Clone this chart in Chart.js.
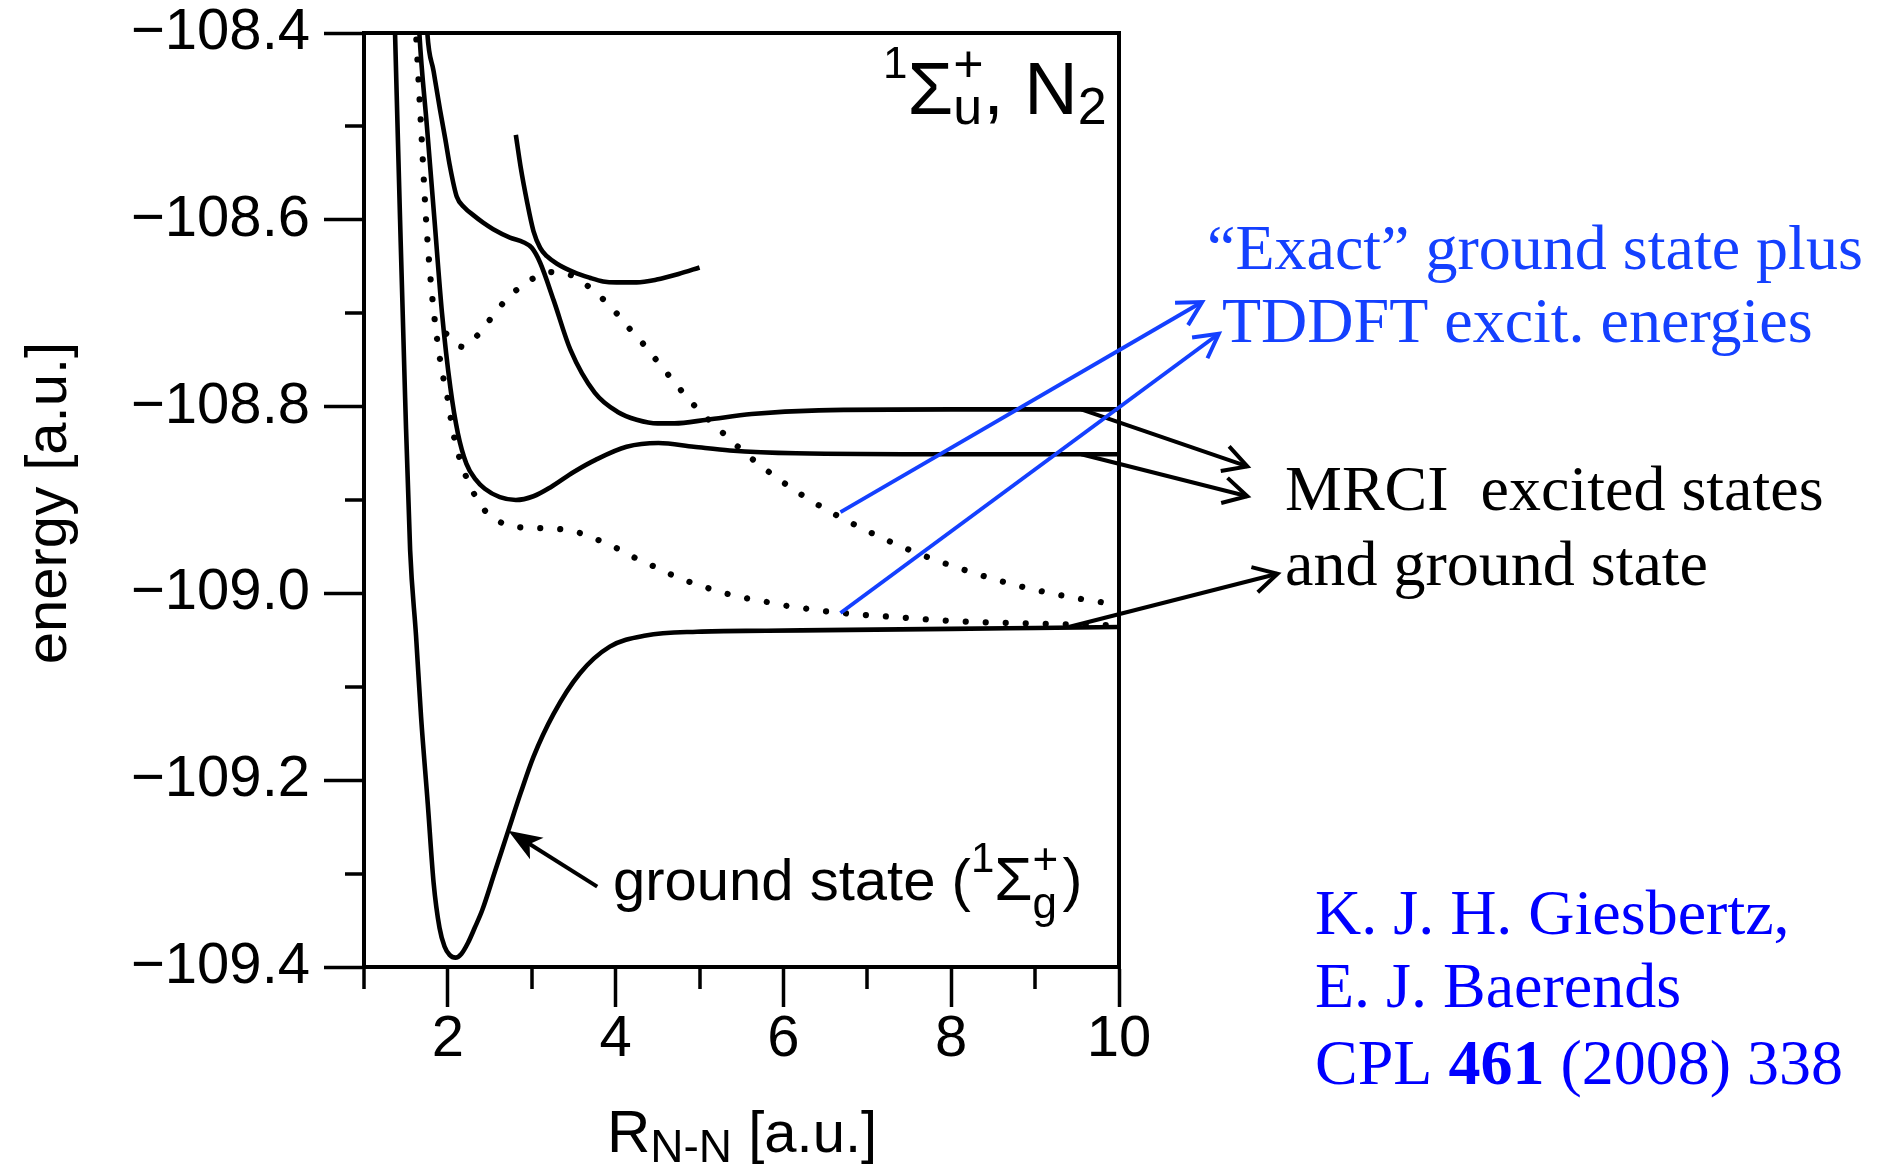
<!DOCTYPE html>
<html>
<head>
<meta charset="utf-8">
<title>N2 potential energy curves</title>
<script src="https://cdn.jsdelivr.net/npm/chart.js@4.4.1/dist/chart.umd.min.js"></script>
<style>
  html, body { margin: 0; padding: 0; background: #fff; }
  canvas { display: block; }
</style>
</head>
<body>
<canvas id="pes" width="1883" height="1164"></canvas>
<script>
// R(N-N) in a.u. and energies in a.u.

// MRCI ground state
var groundR = [1.31, 1.37, 1.43, 1.49, 1.55, 1.62, 1.68, 1.76, 1.83, 1.90, 1.96, 2.02, 2.09, 2.16, 2.24, 2.32, 2.41, 2.56, 2.72, 2.87, 3.02, 3.26, 3.57, 3.93, 4.36, 4.97, 5.80, 6.79, 8.00, 9.00, 10.0];
var groundE = [-108.20, -108.40, -108.60, -108.79, -108.954, -109.045, -109.132, -109.225, -109.310, -109.358, -109.378, -109.387, -109.390, -109.386, -109.374, -109.358, -109.339, -109.298, -109.254, -109.213, -109.175, -109.129, -109.086, -109.057, -109.045, -109.041, -109.040, -109.039, -109.038, -109.037, -109.036];

// MRCI excited states
var mrci1R = [1.61, 1.66, 1.75, 1.84, 1.93, 2.03, 2.12, 2.22, 2.33, 2.44, 2.62, 2.81, 3.02, 3.23, 3.50, 3.76, 4.13, 4.51, 4.93, 5.36, 6.15, 8.00, 10.0];
var mrci1E = [-108.30, -108.40, -108.50, -108.60, -108.70, -108.78, -108.829, -108.861, -108.878, -108.888, -108.897, -108.900, -108.896, -108.886, -108.870, -108.857, -108.843, -108.839, -108.843, -108.847, -108.850, -108.851, -108.851];

var mrci2R = [1.72, 1.755, 1.83, 1.906, 1.97, 2.025, 2.105, 2.20, 2.303, 2.42, 2.54, 2.74, 2.90, 3.00, 3.10, 3.26, 3.46, 3.75, 4.03, 4.25, 4.50, 4.70, 5.09, 5.62, 6.42, 8.00, 10.0];
var mrci2E = [-108.33, -108.40, -108.441, -108.482, -108.514, -108.543, -108.575, -108.587, -108.595, -108.603, -108.610, -108.619, -108.624, -108.630, -108.646, -108.686, -108.739, -108.785, -108.806, -108.814, -108.818, -108.818, -108.814, -108.808, -108.804, -108.803, -108.803];

var mrci3R = [2.81, 2.87, 2.94, 3.02, 3.10, 3.18, 3.30, 3.50, 3.69, 3.85, 4.01, 4.25, 4.49, 4.75, 5.00];
var mrci3E = [-108.509, -108.545, -108.579, -108.612, -108.630, -108.639, -108.647, -108.656, -108.662, -108.666, -108.667, -108.667, -108.664, -108.658, -108.651];

// exact ground state + TDDFT excitation energies
var tddft1R = [1.98, 2.08, 2.17, 2.35, 2.50, 2.65, 2.82, 3.01, 3.23, 3.46, 3.67, 3.85, 4.02, 4.17, 4.33, 4.60, 4.94, 5.30, 5.64, 6.21, 6.84, 7.49, 8.16, 8.85, 9.55, 10.0];
var tddft1E = [-108.722, -108.731, -108.736, -108.724, -108.707, -108.690, -108.675, -108.663, -108.656, -108.659, -108.671, -108.685, -108.701, -108.717, -108.733, -108.763, -108.799, -108.830, -108.857, -108.894, -108.926, -108.953, -108.975, -108.993, -109.006, -109.012];

var tddft2R = [1.56, 1.62, 1.68, 1.74, 1.80, 1.87, 1.93, 1.99, 2.07, 2.20, 2.43, 2.61, 2.84, 3.08, 3.32, 3.56, 3.77, 4.00, 4.21, 4.43, 4.64, 4.86, 5.09, 5.31, 5.55, 5.79, 6.02, 6.25, 6.49, 6.96, 7.44, 7.91, 8.39, 8.86, 9.33, 9.86, 10.0];
var tddft2E = [-108.30, -108.40, -108.50, -108.60, -108.67, -108.727, -108.762, -108.788, -108.831, -108.871, -108.910, -108.923, -108.929, -108.930, -108.931, -108.935, -108.942, -108.951, -108.961, -108.970, -108.979, -108.987, -108.994, -109.000, -109.005, -109.009, -109.013, -109.016, -109.019, -109.023, -109.026, -109.029, -109.031, -109.032, -109.033, -109.034, -109.034];

// axis ticks
var xMajor = [2, 4, 6, 8, 10];
var xMinor = [1, 3, 5, 7, 9];
var yMajor = [-109.4, -109.2, -109.0, -108.8, -108.6, -108.4];
var yMinor = [-109.3, -109.1, -108.9, -108.7, -108.5];

// arrows [fromR, fromE, toR, toE]
var groundArrow = [3.78, -109.314, 2.72, -109.254];
var mrciArrows = [[9.55, -108.803, 11.53, -108.864], [9.55, -108.851, 11.53, -108.896], [9.40, -109.036, 11.89, -108.979]];
var tddftArrows = [[6.68, -108.913, 10.99, -108.688], [6.68, -109.021, 11.19, -108.722]];

var sans = '"Liberation Sans", Arial, Helvetica, sans-serif';
var serif = '"Liberation Serif", "Times New Roman", serif';
var blue = '#1440ff';
var citeBlue = '#0000ff';

function pts(xs, ys) {
  var out = [];
  for (var i = 0; i < xs.length; i++) out.push({ x: xs[i], y: ys[i] });
  return out;
}
function solid(xs, ys) {
  return {
    data: pts(xs, ys), showLine: true, fill: false,
    borderColor: '#000', borderWidth: 4.6, pointRadius: 0,
    cubicInterpolationMode: 'monotone'
  };
}
function dotted(xs, ys) {
  var d = solid(xs, ys);
  d.borderWidth = 6.2;
  d.borderDash = [0.01, 20];
  d.borderCapStyle = 'round';
  return d;
}

// write runs of text one after another; each run: [text, font, dy, advance?]
function runs(ctx, x, y, parts) {
  for (var i = 0; i < parts.length; i++) {
    var p = parts[i];
    ctx.font = p[1];
    ctx.fillText(p[0], x, y + (p[2] || 0));
    if (p[3] !== false) x += ctx.measureText(p[0]).width;
  }
  return x;
}

function arrow(ctx, x1, y1, x2, y2, color, filled) {
  var ang = Math.atan2(y2 - y1, x2 - x1);
  ctx.strokeStyle = color;
  ctx.fillStyle = color;
  ctx.lineWidth = 4;
  ctx.lineCap = 'butt';
  ctx.beginPath();
  ctx.moveTo(x1, y1);
  if (filled) ctx.lineTo(x2 - 20 * Math.cos(ang), y2 - 20 * Math.sin(ang));
  else ctx.lineTo(x2, y2);
  ctx.stroke();
  if (filled) {
    var L = 36, w = 0.36;
    ctx.beginPath();
    ctx.moveTo(x2, y2);
    ctx.lineTo(x2 - L * Math.cos(ang - w), y2 - L * Math.sin(ang - w));
    ctx.lineTo(x2 - 0.7 * L * Math.cos(ang), y2 - 0.7 * L * Math.sin(ang));
    ctx.lineTo(x2 - L * Math.cos(ang + w), y2 - L * Math.sin(ang + w));
    ctx.closePath();
    ctx.fill();
  } else {
    var l = 27, v = 0.5;
    ctx.lineJoin = 'miter';
    ctx.beginPath();
    ctx.moveTo(x2 - l * Math.cos(ang - v), y2 - l * Math.sin(ang - v));
    ctx.lineTo(x2, y2);
    ctx.lineTo(x2 - l * Math.cos(ang + v), y2 - l * Math.sin(ang + v));
    ctx.stroke();
  }
}

var notes = {
  id: 'notes',
  afterDraw: function (chart) {
    var ctx = chart.ctx, a = chart.chartArea;
    var sx = chart.scales.x, sy = chart.scales.y;
    function X(v) { return sx.getPixelForValue(v); }
    function Y(v) { return sy.getPixelForValue(v); }
    ctx.save();

    // top and right sides of the frame
    ctx.strokeStyle = '#000';
    ctx.lineWidth = 4;
    ctx.beginPath();
    ctx.moveTo(a.left - 2, a.top);
    ctx.lineTo(a.right, a.top);
    ctx.lineTo(a.right, a.bottom + 2);
    ctx.stroke();

    // minor ticks
    ctx.lineWidth = 3.5;
    ctx.beginPath();
    xMinor.forEach(function (v) {
      var p = Math.round(X(v));
      ctx.moveTo(p, a.bottom);
      ctx.lineTo(p, a.bottom + 22);
    });
    yMinor.forEach(function (v) {
      var p = Math.round(Y(v));
      ctx.moveTo(a.left, p);
      ctx.lineTo(a.left - 19, p);
    });
    ctx.stroke();

    // arrows
    arrow(ctx, X(groundArrow[0]), Y(groundArrow[1]), X(groundArrow[2]), Y(groundArrow[3]), '#000', true);
    mrciArrows.forEach(function (r) { arrow(ctx, X(r[0]), Y(r[1]), X(r[2]), Y(r[3]), '#000', false); });
    tddftArrows.forEach(function (r) { arrow(ctx, X(r[0]), Y(r[1]), X(r[2]), Y(r[3]), blue, false); });

    ctx.textAlign = 'left';
    ctx.textBaseline = 'alphabetic';
    ctx.fillStyle = '#000';

    // axis titles
    ctx.save();
    ctx.translate(66, 503);
    ctx.rotate(-Math.PI / 2);
    ctx.textAlign = 'center';
    ctx.font = '58px ' + sans;
    ctx.fillText('energy [a.u.]', 0, 0);
    ctx.restore();
    runs(ctx, 607, 1152, [['R', '60px ' + sans], ['N-N', '46px ' + sans, 10], [' [a.u.]', '58px ' + sans]]);

    // symmetry label
    var x = runs(ctx, 883, 114, [['1', '44px ' + sans, -36], ['\u03a3', '74px ' + sans]]);
    runs(ctx, x, 114, [['u', '52px ' + sans, 10, false], ['+', '52px ' + sans, -32]]);
    x += 30;
    runs(ctx, x, 114, [[', N', '74px ' + sans], ['2', '52px ' + sans, 10]]);

    // ground state label
    x = runs(ctx, 613, 900, [['ground state (', '58px ' + sans], ['1', '42px ' + sans, -28], ['\u03a3', '62px ' + sans]]);
    runs(ctx, x, 900, [['g', '44px ' + sans, 18, false], ['+', '44px ' + sans, -26]]);
    runs(ctx, x + 30, 900, [[')', '60px ' + sans]]);

    // MRCI label
    ctx.font = '64px ' + serif;
    ctx.fillText('MRCI  excited states', 1285, 510);
    ctx.fillText('and ground state', 1285, 585);

    // TDDFT label
    ctx.fillStyle = blue;
    ctx.fillText('\u201cExact\u201d ground state plus', 1207, 269);
    ctx.fillText('TDDFT excit. energies', 1222, 342);

    // reference
    ctx.fillStyle = citeBlue;
    ctx.fillText('K. J. H. Giesbertz,', 1315, 934);
    ctx.fillText('E. J. Baerends', 1315, 1007);
    runs(ctx, 1315, 1084, [['CPL ', '64px ' + serif], ['461', 'bold 64px ' + serif], [' (2008) 338', '64px ' + serif]]);

    ctx.restore();
  }
};

new Chart(document.getElementById('pes'), {
  type: 'scatter',
  data: {
    datasets: [
      dotted(tddft1R, tddft1E),
      dotted(tddft2R, tddft2E),
      solid(groundR, groundE),
      solid(mrci1R, mrci1E),
      solid(mrci2R, mrci2E),
      solid(mrci3R, mrci3E)
    ]
  },
  options: {
    responsive: false,
    animation: false,
    devicePixelRatio: 1,
    layout: { padding: { top: 33, right: 764, bottom: 0, left: 0 } },
    plugins: { legend: { display: false }, tooltip: { enabled: false } },
    scales: {
      x: {
        type: 'linear', min: 1, max: 10,
        afterBuildTicks: function (s) { s.ticks = xMajor.map(function (v) { return { value: v }; }); },
        afterFit: function (s) { s.height = 197; },
        grid: { drawOnChartArea: false, tickLength: 40, tickWidth: 3.5, tickColor: '#000' },
        border: { color: '#000', width: 4 },
        ticks: {
          color: '#000', padding: 4, maxRotation: 0, autoSkip: false,
          font: { family: sans, size: 58, lineHeight: 1 },
          callback: function (v) { return String(v); }
        }
      },
      y: {
        type: 'linear', min: -109.4, max: -108.4,
        afterBuildTicks: function (s) { s.ticks = yMajor.map(function (v) { return { value: v }; }); },
        afterFit: function (s) { s.width = 364; },
        grid: { drawOnChartArea: false, tickLength: 40, tickWidth: 3.5, tickColor: '#000' },
        border: { color: '#000', width: 4 },
        ticks: {
          color: '#000', padding: 14, autoSkip: false,
          font: { family: sans, size: 58, lineHeight: 0.3 },
          callback: function (v) { return '\u2212' + Math.abs(v).toFixed(1); }
        }
      }
    }
  },
  plugins: [notes]
});
</script>
</body>
</html>
